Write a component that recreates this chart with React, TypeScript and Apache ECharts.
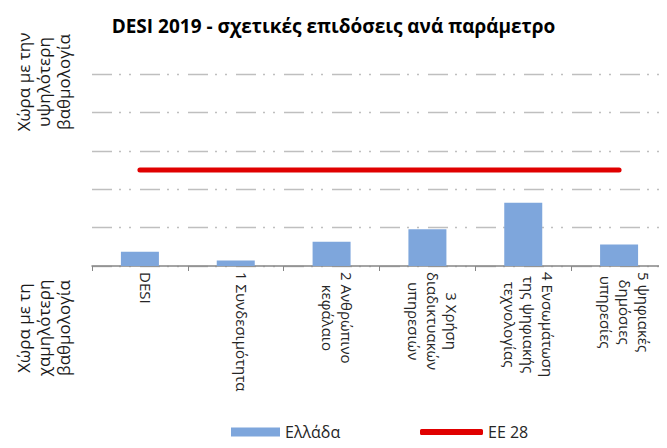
import React, { useEffect, useRef } from "react";
import * as echarts from "echarts";

const TITLE = "DESI 2019 - σχετικές επιδόσεις ανά παράμετρο";
const categories = [
  "DESI",
  "1 Συνδεσιμότητα",
  "2 Ανθρώπινο\nκεφάλαιο",
  "3 Χρήση\nδιαδικτυακών\nυπηρεσιών",
  "4 Ενσωμάτωση\nτης ψηφιακής\nτεχνολογίας",
  "5 ψηφιακές\nδημόσιες\nυπηρεσίες",
];
const greeceValues = [0.37, 0.14, 0.63, 0.96, 1.65, 0.56];
const eu28Values = [2.5, 2.5, 2.5, 2.5, 2.5, 2.5];
const seriesNames = ["Ελλάδα", "ΕΕ 28"];
const topAxisName = "Χώρα με την\nυψηλότερη\nβαθμολογία";
const bottomAxisName = "Χώρα με τη\nχαμηλότερη\nβαθμολογία";

const FONT = "'Open Sans', 'Noto Sans', sans-serif";
const BLUE = "#7ea6dc";
const RED = "#e00000";

export default function App() {
  const ref = useRef<HTMLDivElement>(null);
  useEffect(() => {
    if (!ref.current) return;
    const chart = echarts.init(ref.current, null, { renderer: "svg" });
    chart.setOption({
      animation: false,
      backgroundColor: "#ffffff",
      textStyle: { fontFamily: FONT },
      title: {
        text: TITLE,
        left: "center",
        top: 11,
        textStyle: { fontFamily: FONT, fontSize: 19, fontWeight: "bold", color: "#000000" },
      },
      legend: [
        {
          data: [{ name: seriesNames[0], itemStyle: { color: BLUE } }],
          left: 226,
          top: 419,
          itemWidth: 49,
          itemHeight: 9,
          itemGap: 6,
          icon: "rect",
          textStyle: { fontFamily: FONT, fontSize: 16, color: "#262626" },
        },
        {
          data: [{ name: seriesNames[1], itemStyle: { color: RED } }],
          left: 415,
          top: 419,
          itemWidth: 63,
          itemHeight: 6,
          icon: "roundRect",
          textStyle: { fontFamily: FONT, fontSize: 16, color: "#262626" },
        },
      ],
      grid: { left: 92, right: -6, top: 74, bottom: 182, containLabel: false },
      xAxis: {
        type: "category",
        data: categories,
        axisLine: { lineStyle: { color: "#868686", width: 1.5 } },
        axisTick: { show: true, length: 5, lineStyle: { color: "#868686" } },
        axisLabel: {
          rotate: -90,
          interval: 0,
          margin: 6,
          color: "#262626",
          fontFamily: FONT,
          fontSize: 15,
          padding: [0, 0, 12, 0],
          formatter: (v: string) =>
            v
              .split("\n")
              .map((l) => `{c|${l}}`)
              .join("\n"),
          rich: {
            c: { align: "center", fontFamily: FONT, fontSize: 15, lineHeight: 19, color: "#262626" },
          },
        },
      },
      yAxis: {
        type: "value",
        min: 0,
        max: 5,
        interval: 1,
        axisLabel: { show: false },
        axisLine: { show: false },
        axisTick: { show: false },
        splitLine: {
          lineStyle: { color: "#bfbfbf", width: 1.3, type: [20, 7, 2, 8, 2, 9] },
        },
      },
      graphic: [
        {
          type: "text",
          x: 43,
          y: 82,
          rotation: Math.PI / 2,
          style: {
            text: topAxisName,
            fontFamily: FONT,
            fontSize: 17,
            lineHeight: 20,
            align: "center",
            verticalAlign: "middle",
            fill: "#1a1a1a",
          },
        },
        {
          type: "text",
          x: 43,
          y: 328,
          rotation: Math.PI / 2,
          style: {
            text: bottomAxisName,
            fontFamily: FONT,
            fontSize: 17,
            lineHeight: 20,
            align: "center",
            verticalAlign: "middle",
            fill: "#1a1a1a",
          },
        },
      ],
      series: [
        {
          name: seriesNames[0],
          type: "bar",
          data: greeceValues,
          barWidth: 38,
          itemStyle: { color: BLUE },
          z: 2,
        },
        {
          name: seriesNames[1],
          type: "line",
          data: eu28Values,
          symbol: "none",
          lineStyle: { color: RED, width: 5, cap: "round" },
          itemStyle: { color: RED },
          z: 3,
        },
      ],
    });
    return () => chart.dispose();
  }, []);
  return <div ref={ref} style={{ width: 667, height: 448, margin: -8 }} />;
}
